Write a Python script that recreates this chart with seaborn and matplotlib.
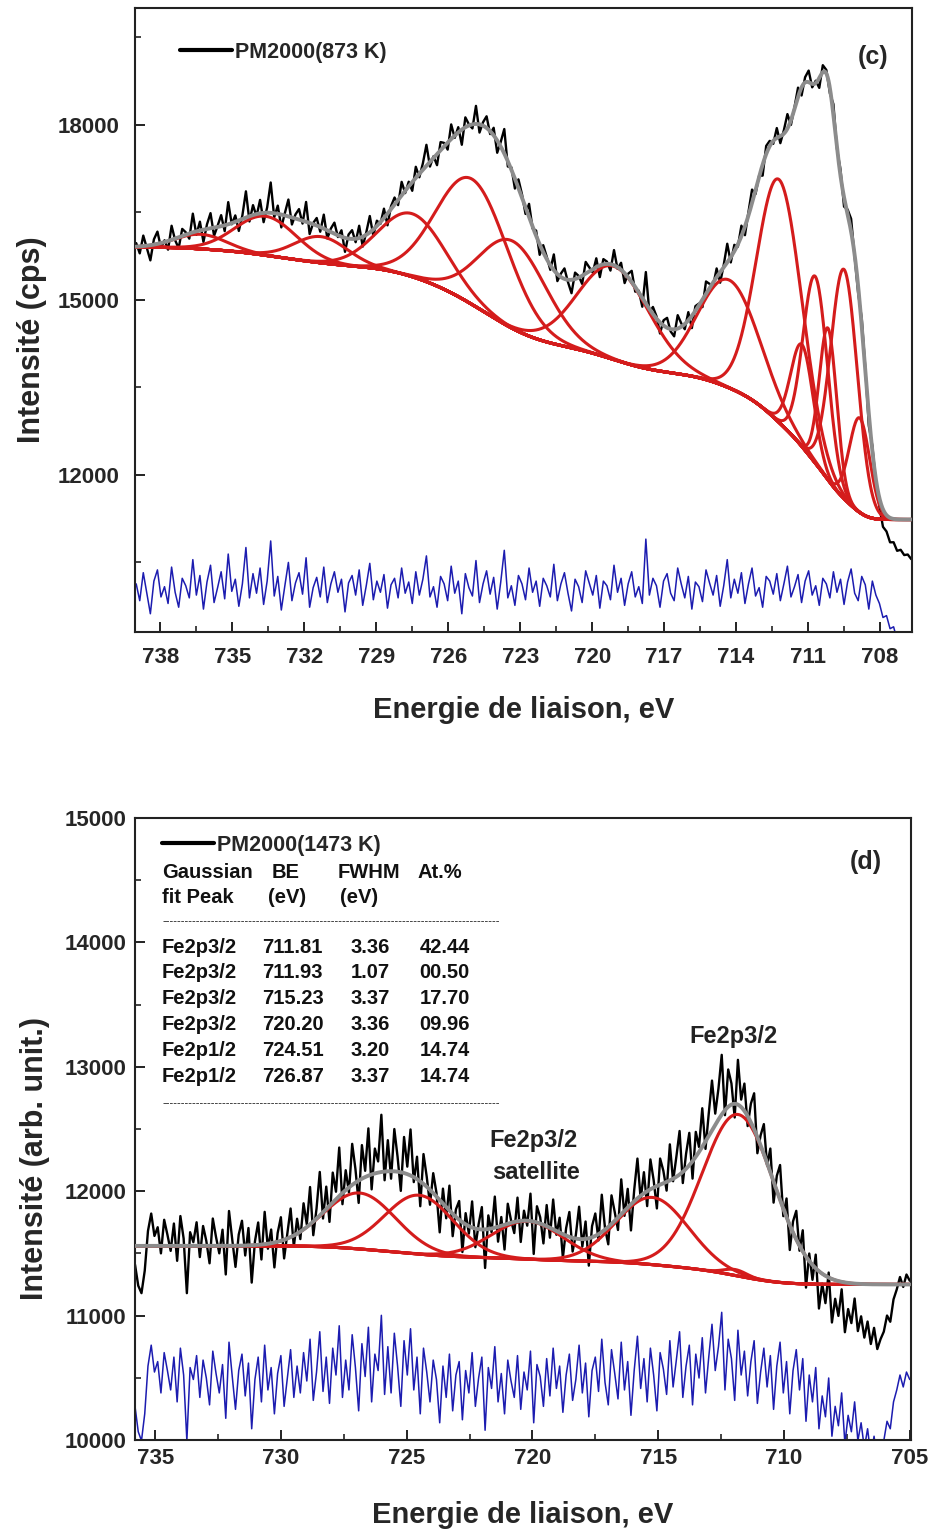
import math
import numpy as np
import matplotlib
matplotlib.use("Agg")
import matplotlib.pyplot as plt
import seaborn as sns
from matplotlib.ticker import MultipleLocator

# ---------------- Panel (c): PM2000 (873 K), Fe 2p region ----------------
c_center = [736.3, 733.6, 731.3, 727.5, 725.0, 723.3, 719.1, 714.3,
            712.2, 711.25, 710.7, 710.17, 709.5, 708.85]
c_height = [250, 670, 450, 1080, 2150, 1500, 1600, 1850,
            4165, 1750, 3200, 2600, 3930, 1620]
c_fwhm = [2.5, 3.0, 2.6, 3.3, 3.5, 3.3, 3.5, 3.0,
          2.2, 1.1, 1.2, 0.85, 1.3, 1.0]
c_bg_high, c_bg_low = 15900, 11230
c_range = (739.0, 706.7)
c_resid_offset, c_resid_gain = 10030, 1.6
c_resid = [
    60, -120, 180, -40, -260, 90, 210, -80, 30, -150, 240, -30, -190, 120, 40, -90, 320, -60, 150, -210,
    80, 260, -140, 20, 190, -100, 380, -20, 110, -180, 60, 450, -90, 170, -40, 230, -160, 90, 520, -70,
    140, -220, 40, 290, -120, 70, 180, -50, 340, -190, 20, 130, -80, 240, -140, 60, 190, -30, 110, -240,
    70, 150, -60, 210, -170, 40, 280, -110, 90, -30, 160, -200, 50, 120, -90, 230, -40, 80, -150, 190,
    -60, 110, 360, -80, 30, -190, 140, 60, -120, 250, -40, 90, -260, 170, 20, -70, 310, -140, 60, 200,
    -50, 130, -210, 80, 420, -90, 40, -170, 150, 60, -110, 230, -30, 90, -180, 120, 40, -80, 270, -120,
    60, 180, -40, -230, 110, 30, -140, 200, 70, -60, 150, -200, 90, 40, -110, 260, -30, 120, -170, 60,
    190, -80, 30, -150, 540, -60, 120, 40, -190, 90, 170, -40, -120, 230, 60, -90, 140, -210, 80, 30,
    -130, 210, 70, -60, 150, -180, 40, 320, -90, 110, -40, 180, -150, 60, 230, -70, 20, -190, 140, 90,
    -50, 170, -120, 60, 250, -80, 30, 160, -140, 90, 200, -60, 40, -170, 120, 60, -90, 190, -30, 110,
    -160, 80, 220, -40, -120, 140, 50, -210, 90, -60, -150, -300, -280, -420, -400, -540, -520, -610, -600, -680,
]
c_label = "PM2000(873 K)"

# ---------------- Panel (d): PM2000 (1473 K), fitted Gaussians ----------------
d_peak = ["Fe2p3/2", "Fe2p3/2", "Fe2p3/2", "Fe2p3/2", "Fe2p1/2", "Fe2p1/2"]
d_be = [711.81, 711.93, 715.23, 720.20, 724.51, 726.87]
d_fwhm = [3.36, 1.07, 3.37, 3.36, 3.20, 3.37]
d_at = [42.44, 0.50, 17.70, 9.96, 14.74, 14.74]
d_be_txt = ["711.81", "711.93", "715.23", "720.20", "724.51", "726.87"]
d_fwhm_txt = ["3.36", "1.07", "3.37", "3.36", "3.20", "3.37"]
d_at_txt = ["42.44", "00.50", "17.70", "09.96", "14.74", "14.74"]
d_area_total = 10950          # cps*eV of all fitted components
d_bg_high, d_bg_low = 11560, 11250
d_range = (735.8, 705.0)
d_resid_offset, d_resid_gain = 10450, 1.2
d_resid = [
    -150, -320, -380, -200, 120, 260, 80, 150, -60, 210, 90, -40, 180, -120, 240, 60, -380, 110, 30, 190,
    -90, 160, 40, -140, 220, 70, -60, 130, -230, 280, 50, -170, 90, 200, -80, 140, -300, 30, 180, -120,
    260, -40, 110, -200, 70, 190, -150, 40, 230, -90, 120, -60, 210, 20, 300, -110, 80, 350, -50, 180,
    -130, 240, 60, 390, -90, 160, -40, 330, 110, -180, 270, 50, 380, -120, 200, 90, 460, -70, 250, -60,
    340, 120, -150, 290, 60, 370, -40, 180, -200, 240, 80, -120, 160, 30, -260, 120, -90, 200, -180, 60,
    150, -240, 90, -60, 210, -150, 40, 180, -310, 110, -30, 250, -120, 70, -200, 160, 20, -90, 190, -170,
    80, -40, 220, -260, 130, 50, -150, 170, -80, 240, -30, 120, -190, 60, 200, -110, 30, 260, -60, 140,
    -220, 90, 180, -50, 300, 10, -140, 230, 70, -100, 280, -40, 150, -210, 90, 320, -30, 170, -120, 240,
    60, -180, 210, 100, -70, 290, -20, 160, 350, -90, 120, 260, -140, 200, 40, 310, -60, 180, 400, 90,
    250, 480, -40, 300, 170, -110, 360, 60, 220, -80, 150, 290, -130, 80, 240, -20, 190, -170, 120, 280,
    -60, 150, -200, 90, 230, -40, 170, -250, 60, -120, 110, -300, -80, -220, 40, -350, -150, -280, -60, -400,
    -210, -320, -120, -380, -260, -430, -300, -480, -350, -520, -440, -380, -250, -300, -120, -40, 60, -20, 80, 30,
]
d_label = "PM2000(1473 K)"

# ---------------- model helpers ----------------
FW2SIG = 1.0 / (2.0 * math.sqrt(2.0 * math.log(2.0)))
_erf = np.frompyfunc(math.erf, 1, 1)


def gaussian(e, c, h, w):
    s = w * FW2SIG
    return h * np.exp(-0.5 * ((e - c) / s) ** 2)


def cum_area(e, centers, heights, fwhms):
    tot = np.zeros_like(e, dtype=float)
    for c, h, w in zip(centers, heights, fwhms):
        s = w * FW2SIG
        z = ((e - c) / (s * math.sqrt(2.0))).astype(float)
        tot += h * s * math.sqrt(2 * math.pi) * 0.5 * (1.0 + _erf(z).astype(float))
    return tot


def shirley(e, centers, heights, fwhms, e_hi, e_lo, b_hi, b_lo):
    a = cum_area(e, centers, heights, fwhms)
    a_lo = cum_area(np.array([e_lo]), centers, heights, fwhms)[0]
    a_hi = cum_area(np.array([e_hi]), centers, heights, fwhms)[0]
    return b_lo + (b_hi - b_lo) * (a - a_lo) / (a_hi - a_lo)


# heights of the (d) components from their atomic fractions
d_height = [at / 100.0 * d_area_total / (w * 1.0645) for at, w in zip(d_at, d_fwhm)]

# ---------------- style ----------------
sns.set_theme(style="ticks")
plt.rcParams["font.family"] = ["Liberation Sans", "DejaVu Sans"]
plt.rcParams["axes.linewidth"] = 1.5
plt.rcParams["xtick.direction"] = "in"
plt.rcParams["ytick.direction"] = "in"

RED = "#d41c1c"
GREY = "#8c8c8c"
BLUE = "#1c1cb0"

fig = plt.figure(figsize=(9.33, 15.33), dpi=100)
ax_c = fig.add_axes([0.1447, 0.5877, 0.8328, 0.4070])
ax_d = fig.add_axes([0.1447, 0.0607, 0.8317, 0.4057])


def draw_panel(ax, centers, heights, fwhms, e_range, b_hi, b_lo, resid, r_off, r_gain, label):
    e_hi, e_lo = e_range
    e_fine = np.linspace(e_hi, e_lo, 1800)
    e_data = np.linspace(e_hi, e_lo, len(resid))
    bg_f = shirley(e_fine, centers, heights, fwhms, e_hi, e_lo, b_hi, b_lo)
    bg_d = shirley(e_data, centers, heights, fwhms, e_hi, e_lo, b_hi, b_lo)
    env_f = bg_f.copy()
    env_d = bg_d.copy()
    comps = []
    for c, h, w in zip(centers, heights, fwhms):
        g = gaussian(e_fine, c, h, w)
        comps.append(bg_f + g)
        env_f += g
        env_d += gaussian(e_data, c, h, w)
    res = np.asarray(resid, dtype=float)
    raw = env_d + res
    sns.lineplot(x=e_data, y=raw, ax=ax, color="black", lw=1.7, sort=False,
                 estimator=None, label=label, zorder=2)
    sns.lineplot(x=e_fine, y=bg_f, ax=ax, color=RED, lw=2.2, sort=False,
                 estimator=None, zorder=3)
    for comp in comps:
        sns.lineplot(x=e_fine, y=comp, ax=ax, color=RED, lw=2.2, sort=False,
                     estimator=None, zorder=3)
    sns.lineplot(x=e_fine, y=env_f, ax=ax, color=GREY, lw=2.8, sort=False,
                 estimator=None, zorder=4)
    sns.lineplot(x=e_data, y=r_off + r_gain * res, ax=ax, color=BLUE, lw=1.1,
                 sort=False, estimator=None, zorder=2)


draw_panel(ax_c, c_center, c_height, c_fwhm, c_range, c_bg_high, c_bg_low,
           c_resid, c_resid_offset, c_resid_gain, c_label)
draw_panel(ax_d, d_be, d_height, d_fwhm, d_range, d_bg_high, d_bg_low,
           d_resid, d_resid_offset, d_resid_gain, d_label)

# ---------------- axes ----------------
ax_c.set_xlim(739.05, 706.67)
ax_c.set_ylim(9300, 20000)
ax_c.xaxis.set_major_locator(MultipleLocator(3))
ax_c.xaxis.set_minor_locator(MultipleLocator(1.5))
ax_c.yaxis.set_major_locator(MultipleLocator(3000))
ax_c.yaxis.set_minor_locator(MultipleLocator(1500))

ax_d.set_xlim(735.8, 704.95)
ax_d.set_ylim(10000, 15000)
ax_d.xaxis.set_major_locator(MultipleLocator(5))
ax_d.xaxis.set_minor_locator(MultipleLocator(2.5))
ax_d.yaxis.set_major_locator(MultipleLocator(1000))
ax_d.yaxis.set_minor_locator(MultipleLocator(500))

for ax, pad in ((ax_c, 11), (ax_d, 6)):
    for sp in ax.spines.values():
        sp.set_visible(True)
        sp.set_linewidth(1.5)
        sp.set_color("#222222")
    ax.tick_params(which="major", length=7, width=1.4, labelsize=16, pad=pad,
                   top=False, right=False, color="#222222")
    ax.tick_params(which="minor", length=4, width=1.2, top=False, right=False,
                   color="#222222")
    ax.set_xlabel("Energie de liaison, eV", fontsize=21, fontweight="bold")
    for lab in ax.get_xticklabels() + ax.get_yticklabels():
        lab.set_fontweight("bold")

ax_c.set_ylabel("Intensité (cps)", fontsize=22, fontweight="bold")
ax_d.set_ylabel("Intensité (arb. unit.)", fontsize=22, fontweight="bold")
ax_c.yaxis.set_label_coords(-0.113, 0.468)
ax_d.yaxis.set_label_coords(-0.11, 0.453)
ax_c.xaxis.set_label_coords(0.5, -0.102)
ax_d.xaxis.set_label_coords(0.5, -0.098)

# legends
for ax, anchor in ((ax_c, (0.058, 0.929)), (ax_d, (0.0348, 0.9566))):
    leg = ax.legend(loc="center left", bbox_to_anchor=anchor, frameon=False,
                    handlelength=2.4, handletextpad=0.15, borderpad=0,
                    borderaxespad=0, prop={"weight": "bold", "size": 15.5})
    for line in leg.get_lines():
        line.set_linewidth(3)

ax_c.text(0.95, 0.9215, "(c)", transform=ax_c.transAxes, fontsize=18,
          fontweight="bold", ha="center", va="center")
ax_d.text(0.942, 0.929, "(d)", transform=ax_d.transAxes, fontsize=18,
          fontweight="bold", ha="center", va="center")

# fit table in panel (d)
def fy(py):
    return (1440 - py) / 622.0


def fx(px):
    return (px - 135) / 776.0


tkw = dict(transform=ax_d.transAxes, fontsize=14.5, fontweight="bold",
           va="center", color="#111111")
ax_d.text(fx(162), fy(872), "Gaussian", ha="left", **tkw)
ax_d.text(fx(272), fy(872), "BE", ha="left", **tkw)
ax_d.text(fx(338), fy(872), "FWHM", ha="left", **tkw)
ax_d.text(fx(418), fy(872), "At.%", ha="left", **tkw)
ax_d.text(fx(162), fy(897), "fit Peak", ha="left", **tkw)
ax_d.text(fx(268), fy(897), "(eV)", ha="left", **tkw)
ax_d.text(fx(340), fy(897), "(eV)", ha="left", **tkw)
dash = "-" * 90
ax_d.text(fx(162), fy(921), dash, ha="left", transform=ax_d.transAxes,
          fontsize=8, va="center", color="#111111")
ax_d.text(fx(162), fy(1103), dash, ha="left", transform=ax_d.transAxes,
          fontsize=8, va="center", color="#111111")
row_y = [948, 973, 999, 1025, 1051, 1077]
for py, name, be, fw, at in zip(row_y, d_peak, d_be_txt, d_fwhm_txt, d_at_txt):
    ax_d.text(fx(162), fy(py), name, ha="left", **tkw)
    ax_d.text(fx(262), fy(py), be, ha="left", **tkw)
    ax_d.text(fx(390), fy(py), fw, ha="right", **tkw)
    ax_d.text(fx(470), fy(py), at, ha="right", **tkw)

# peak annotations
ax_d.text(712.0, 13240, "Fe2p3/2", fontsize=17, fontweight="bold",
          ha="center", va="center", color="#222222")
ax_d.text(721.7, 12410, "Fe2p3/2", fontsize=17, fontweight="bold",
          ha="left", va="center", color="#222222")
ax_d.text(721.6, 12150, "satellite", fontsize=17, fontweight="bold",
          ha="left", va="center", color="#222222")

fig.savefig("out.png", dpi=100, facecolor="white")
